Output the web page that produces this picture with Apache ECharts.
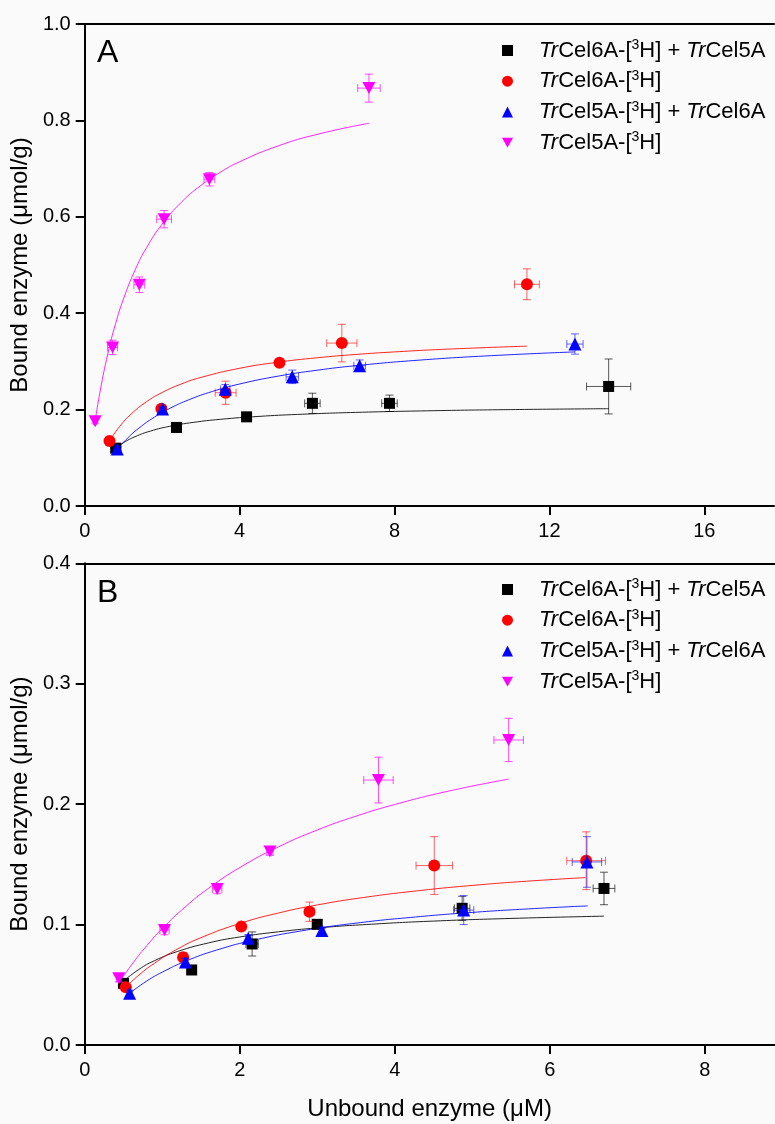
<!DOCTYPE html>
<html><head><meta charset="utf-8">
<script src="https://cdn.jsdelivr.net/npm/echarts@6/dist/echarts.min.js"></script>
<style>html,body{margin:0;padding:0;background:#fafafa}#c{width:775px;height:1124px}</style>
</head><body><div id="c"></div>
<script>
const FONT = '"Liberation Sans", Arial, sans-serif';
const seriesNames = ['TrCel6A-[3H] + TrCel5A', 'TrCel6A-[3H]', 'TrCel5A-[3H] + TrCel6A', 'TrCel5A-[3H]'];
const legendLabels = ['{i|Tr}Cel6A-[{s|3}H] + {i|Tr}Cel5A', '{i|Tr}Cel6A-[{s|3}H]', '{i|Tr}Cel5A-[{s|3}H] + {i|Tr}Cel6A', '{i|Tr}Cel5A-[{s|3}H]'];
const colors = ['#000000', '#ff0000', '#0000ff', '#ff00ff'];
const xTicksA = [0, 4, 8, 12, 16];
const yTicksA = [0, 0.2, 0.4, 0.6, 0.8, 1.0];
const xTicksB = [0, 2, 4, 6, 8];
const yTicksB = [0, 0.1, 0.2, 0.3, 0.4];
const xTitle = 'Unbound enzyme (\u03bcM)';
const yTitle = 'Bound enzyme (\u03bcmol/g)';

// points: [x, y, xErr, yErr]
const A_black = [[0.80,0.120,0.06,0.004],[2.37,0.163,0.10,0.010],[4.18,0.185,0.05,0.004],[5.88,0.213,0.20,0.021],[7.87,0.213,0.20,0.017],[13.53,0.248,0.57,0.057]];
const A_red = [[0.64,0.135,0.04,0.003],[1.98,0.202,0.10,0.006],[3.64,0.235,0.27,0.024],[5.03,0.297,0.05,0.004],[6.64,0.338,0.39,0.039],[11.42,0.460,0.32,0.032]];
const A_blue = [[0.84,0.118,0.10,0.005],[2.01,0.201,0.08,0.005],[3.63,0.242,0.12,0.010],[5.36,0.268,0.16,0.014],[7.10,0.291,0.15,0.012],[12.66,0.336,0.21,0.021]];
const A_mag = [[0.27,0.176,0.04,0.004],[0.72,0.329,0.13,0.015],[1.41,0.459,0.14,0.016],[2.05,0.595,0.19,0.018],[3.22,0.678,0.14,0.014],[7.34,0.867,0.29,0.029]];

const B_black = [[0.50,0.0512,0.03,0.002],[1.38,0.0623,0.04,0.003],[2.16,0.0839,0.08,0.010],[3.00,0.1002,0.04,0.003],[4.87,0.1135,0.10,0.010],[6.70,0.130,0.14,0.0135]];
const B_red = [[0.53,0.048,0.03,0.003],[1.27,0.0728,0.04,0.004],[2.02,0.0983,0.03,0.002],[2.90,0.1107,0.06,0.008],[4.51,0.149,0.235,0.024],[6.47,0.153,0.25,0.024]];
const B_blue = [[0.58,0.043,0.03,0.002],[1.30,0.069,0.03,0.003],[2.11,0.0886,0.03,0.003],[3.06,0.095,0.03,0.002],[4.89,0.112,0.13,0.012],[6.48,0.152,0.19,0.021]];
const B_mag = [[0.44,0.0554,0.03,0.003],[1.03,0.0955,0.06,0.004],[1.71,0.1296,0.06,0.004],[2.39,0.1606,0.04,0.003],[3.79,0.220,0.19,0.019],[5.47,0.2533,0.19,0.018]];

// fitted curves as drawn in the picture: [x, y]
const A_blackFit = [[0.80,0.1200],[1.0,0.1313],[1.3,0.1438],[1.7,0.1555],[2.2,0.1654],[2.8,0.1734],[3.5,0.1798],[4.5,0.1859],[5.5,0.1900],[7.0,0.1942],[9.0,0.1977],[11.0,0.2000],[13.53,0.2019]];
const A_redFit = [[0.64,0.1348],[0.9,0.1648],[1.2,0.1908],[1.6,0.2165],[2.0,0.2355],[2.5,0.2533],[3.0,0.2667],[4.0,0.2857],[5.0,0.2984],[6.0,0.3075],[7.0,0.3144],[8.0,0.3197],[9.5,0.3259],[11.42,0.3316]];
const A_blueFit = [[0.84,0.1179],[1.1,0.1403],[1.4,0.1616],[1.8,0.1844],[2.2,0.2026],[2.7,0.2207],[3.3,0.2377],[4.0,0.2531],[5.0,0.2695],[6.0,0.2817],[7.0,0.2911],[8.5,0.3018],[10.5,0.3119],[12.66,0.3197]];
const A_magFit = [[0.27,0.1761],[0.4,0.2388],[0.6,0.3169],[0.8,0.3789],[1.0,0.4293],[1.3,0.4894],[1.6,0.5363],[2.0,0.5848],[2.5,0.6305],[3.0,0.6651],[3.5,0.6923],[4.0,0.7142],[5.0,0.7472],[6.0,0.7710],[7.34,0.7941]];

const B_blackFit = [[0.50,0.0530],[0.7,0.0628],[0.9,0.0700],[1.2,0.0777],[1.6,0.0848],[2.0,0.0897],[2.5,0.0940],[3.0,0.0972],[3.7,0.1003],[4.5,0.1029],[5.5,0.1051],[6.70,0.1070]];
const B_redFit = [[0.53,0.0480],[0.7,0.0581],[0.9,0.0679],[1.2,0.0798],[1.5,0.0891],[2.0,0.1009],[2.5,0.1096],[3.0,0.1163],[3.6,0.1225],[4.3,0.1281],[5.0,0.1325],[5.7,0.1360],[6.46,0.1390]];
const B_blueFit = [[0.58,0.0430],[0.8,0.0531],[1.0,0.0605],[1.3,0.0695],[1.7,0.0788],[2.2,0.0873],[2.8,0.0948],[3.5,0.1012],[4.2,0.1059],[5.0,0.1101],[5.8,0.1133],[6.49,0.1155]];
const B_magFit = [[0.44,0.0515],[0.6,0.0662],[0.8,0.0824],[1.0,0.0966],[1.3,0.1148],[1.6,0.1302],[2.0,0.1473],[2.5,0.1645],[3.0,0.1785],[3.5,0.1900],[4.0,0.1997],[4.7,0.2109],[5.47,0.2208]];

const symbols = ['rect', 'circle', 'triangle', 'path://M0,0L10,0L5,9Z'];
const symbolSizes = [11, 12, 13, [13, 12]];
const errColors = ['rgba(0,0,0,0.65)', 'rgba(255,0,0,0.6)', 'rgba(0,0,255,0.6)', 'rgba(255,0,255,0.7)'];

function errRender(color) {
  return function (params, api) {
    const x = api.value(0), y = api.value(1), xe = api.value(2), ye = api.value(3);
    const c = api.coord([x, y]);
    const t = api.coord([x, y + ye]), b = api.coord([x, y - ye]);
    const l = api.coord([x - xe, y]), r = api.coord([x + xe, y]);
    const cap = 4;
    const st = { stroke: color, lineWidth: 1 };
    return { type: 'group', children: [
      { type: 'line', shape: { x1: c[0], y1: t[1], x2: c[0], y2: b[1] }, style: st },
      { type: 'line', shape: { x1: c[0] - cap, y1: t[1], x2: c[0] + cap, y2: t[1] }, style: st },
      { type: 'line', shape: { x1: c[0] - cap, y1: b[1], x2: c[0] + cap, y2: b[1] }, style: st },
      { type: 'line', shape: { x1: l[0], y1: c[1], x2: r[0], y2: c[1] }, style: st },
      { type: 'line', shape: { x1: l[0], y1: c[1] - cap, x2: l[0], y2: c[1] + cap }, style: st },
      { type: 'line', shape: { x1: r[0], y1: c[1] - cap, x2: r[0], y2: c[1] + cap }, style: st }
    ] };
  };
}

const panels = [
  { pts: [A_black, A_red, A_blue, A_mag], fits: [A_blackFit, A_redFit, A_blueFit, A_magFit] },
  { pts: [B_black, B_red, B_blue, B_mag], fits: [B_blackFit, B_redFit, B_blueFit, B_magFit] }
];

const series = [];
panels.forEach((p, pi) => {
  const xi = pi * 2;
  for (let k = 0; k < 4; k++) {
    series.push({ type: 'line', name: 'fit' + pi + k, xAxisIndex: xi, yAxisIndex: pi, data: p.fits[k],
      smooth: true, showSymbol: false, symbol: 'none', lineStyle: { color: colors[k], width: 1, opacity: 0.85 }, z: 2, silent: true });
  }
  for (let k = 0; k < 4; k++) {
    series.push({ type: 'custom', name: 'err' + pi + k, xAxisIndex: xi, yAxisIndex: pi, data: p.pts[k],
      renderItem: errRender(errColors[k]), encode: { x: 0, y: 1 }, z: 3 + k, silent: true });
    series.push({ type: 'scatter', name: seriesNames[k], xAxisIndex: xi, yAxisIndex: pi,
      data: p.pts[k].map(d => [d[0], d[1]]), symbol: symbols[k], symbolSize: symbolSizes[k],
      itemStyle: { color: colors[k], opacity: 1 }, z: 3 + k });
  }
});

const tickLabel = { fontSize: 20, fontFamily: FONT, color: '#000' };
function mkLegend(top) {
  return {
    orient: 'vertical', left: 497, top: top, itemWidth: 11, itemHeight: 11, itemGap: 6.7,
    selectedMode: false,
    data: seriesNames.map((n, i) => ({ name: n, icon: symbols[i] })),
    formatter: name => legendLabels[seriesNames.indexOf(name)],
    textStyle: { fontSize: 22, fontFamily: FONT, color: '#000', lineHeight: 24, padding: [0, 0, 0, 21],
      rich: { i: { fontStyle: 'italic', fontSize: 22, fontFamily: FONT, lineHeight: 24 },
              s: { fontSize: 14, fontFamily: FONT, lineHeight: 14, verticalAlign: 'top' } } }
  };
}

function xAx(grid, max, ticks, withName) {
  const o = { type: 'value', gridIndex: grid, min: 0, max: max, position: 'bottom',
    axisLine: { show: true, onZero: false, lineStyle: { color: '#000', width: 2 } },
    axisTick: { show: true, inside: false, length: 9, customValues: ticks, lineStyle: { color: '#000', width: 2 } },
    axisLabel: Object.assign({ margin: 15, customValues: ticks }, tickLabel),
    splitLine: { show: false } };
  if (withName) {
    o.name = xTitle; o.nameLocation = 'middle'; o.nameGap = 52;
    o.nameTextStyle = { fontSize: 24, fontFamily: FONT, color: '#000' };
  }
  return o;
}
function topAx(grid, max) {
  return { type: 'value', gridIndex: grid, min: 0, max: max, position: 'top',
    axisLine: { show: true, onZero: false, lineStyle: { color: '#000', width: 2 } },
    axisTick: { show: false }, axisLabel: { show: false }, splitLine: { show: false } };
}
function yAx(grid, max, interval, ticks) {
  return { type: 'value', gridIndex: grid, min: 0, max: max, interval: interval,
    name: yTitle, nameLocation: 'middle', nameGap: 50,
    nameTextStyle: { fontSize: 24, fontFamily: FONT, color: '#000' },
    axisLine: { show: true, onZero: false, lineStyle: { color: '#000', width: 2 } },
    axisTick: { show: true, inside: false, length: 9, lineStyle: { color: '#000', width: 2 } },
    axisLabel: Object.assign({ margin: 14, formatter: v => v.toFixed(1) }, tickLabel),
    splitLine: { show: false } };
}

const chart = echarts.init(document.getElementById('c'), null, { renderer: 'canvas' });
chart.setOption({
  backgroundColor: '#fafafa',
  animation: false,
  grid: [
    { left: 83, top: 24, width: 691, height: 482 },
    { left: 83, top: 563.3, width: 691.5, height: 481.7 }
  ],
  xAxis: [ xAx(0, 17.8, xTicksA, false), topAx(0, 17.8), xAx(1, 8.9, xTicksB, true), topAx(1, 8.9) ],
  yAxis: [ yAx(0, 1.0, 0.2, yTicksA), yAx(1, 0.4, 0.1, yTicksB) ],
  legend: [ mkLegend(33.5), mkLegend(572.5) ],
  graphic: [
    { type: 'text', left: 97, top: 37, style: { text: 'A', fontSize: 32, fontFamily: FONT, fill: '#000' } },
    { type: 'text', left: 97, top: 577, style: { text: 'B', fontSize: 32, fontFamily: FONT, fill: '#000' } }
  ],
  series: series
});
</script></body></html>
